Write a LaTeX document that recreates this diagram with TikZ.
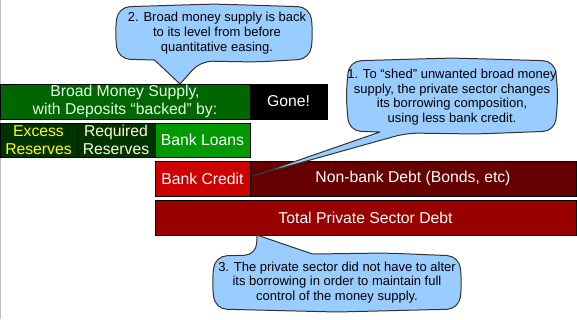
\documentclass[tikz,border=0pt]{standalone}
\usepackage{fontspec}
\setmainfont{Liberation Sans}
\usetikzlibrary{positioning,calc}
\definecolor{moneygreen}{HTML}{006600}
\definecolor{reservegreen}{HTML}{003300}
\definecolor{loangreen}{HTML}{009900}
\definecolor{creditred}{HTML}{CC0000}
\definecolor{bondred}{HTML}{660000}
\definecolor{debtred}{HTML}{990000}
\definecolor{calloutblue}{HTML}{99CCFF}
\definecolor{palegreen}{HTML}{E6FFE6}
\definecolor{paleyellow}{HTML}{FFFFCC}
\definecolor{brightyellow}{HTML}{FFFF00}
\tikzset{
  stackbox/.style={draw=black, line width=0.75pt, outer sep=0pt, inner sep=0pt, align=center, minimum height=26.25pt, font=\fontsize{11.8}{13}\selectfont, text=white},
  calloutbody/.style={inner sep=0pt, outer sep=0pt},
  callout/.style={draw=black!80, fill=calloutblue, line width=0.75pt, line join=round, rounded corners=9pt},
  callouttext/.style={align=center, font=\fontsize{9.75}{11}\selectfont, text=black},
}

\begin{document}
\begin{tikzpicture}[x=0.75pt, y=-0.75pt, node distance=3pt and 0pt]
    \useasboundingbox (0,0) rectangle (577,319);
    \draw[black!25, line width=0.75pt] (0.5,0) -- (0.5,319);
    % money side
    \node[stackbox, fill=moneygreen, text=palegreen, minimum width=187.5pt, anchor=north west] (broad) at (0,84) {Broad Money Supply,\\with Deposits “backed” by:};
    \node[stackbox, fill=black, minimum width=57.75pt, right=of broad] (gone) {Gone!};
    \node[stackbox, fill=reservegreen, text=brightyellow, minimum width=57.75pt, minimum height=25.5pt, below=of broad.south west, anchor=north west] (excess) {Excess\\Reserves};
    \node[stackbox, fill=reservegreen, text=paleyellow, minimum width=58.5pt, minimum height=25.5pt, right=of excess] (required) {Required\\Reserves};
    \node[stackbox, fill=loangreen, minimum width=71.25pt, minimum height=25.5pt, right=of required] (loans) {Bank Loans};
    % debt side
    \node[stackbox, fill=creditred, minimum width=71.25pt, below=of loans.south west, anchor=north west] (credit) {Bank Credit};
    \node[stackbox, fill=bondred, minimum width=244.5pt, right=of credit] (bonds) {Non-bank Debt (Bonds, etc)};
    \node[stackbox, fill=debtred, minimum width=315.75pt, below=of credit.south west, anchor=north west] (total) {Total Private Sector Debt};
    % callouts (sides bulge by 3)
    \node[calloutbody, minimum width=144pt, minimum height=39pt] (note2) at (214,33) {};
    \coordinate (tip2) at ($(broad.north west)!0.72!(broad.north east)$);
    \draw[callout] ($(note2.north)+(0,-3)$) -- (note2.north east) -- ($(note2.east)+(3,0)$) -- (note2.south east) -- ($(note2.south west)!0.72!(note2.south east)+(0,3)$) -- ($(note2.south west)!0.43!(note2.south east)+(0,2)$) [sharp corners] -- (tip2) -- ($(note2.south west)!0.19!(note2.south east)+(0,1)$) [rounded corners=9pt] -- (note2.south west) -- ($(note2.west)+(-3,0)$) -- (note2.north west) -- cycle;
    \node[callouttext] (note2text) at ($(note2)+(3,0)$) {2. Broad money supply is back\\to its level from before\\quantitative easing.};

    \node[calloutbody, minimum width=154.5pt, minimum height=52.5pt] (note1) at (452,96) {};
    \coordinate (tip1) at ($(bonds.west)+(3,-2.5)$);
    \draw[callout] ($(note1.north)+(0,-3)$) -- (note1.north east) -- ($(note1.east)+(3,0)$) -- (note1.south east) -- ($(note1.south west)!0.62!(note1.south east)+(0,3)$) -- ($(note1.south west)!0.28!(note1.south east)+(0,2)$) [sharp corners] -- (tip1) -- ($(note1.south west)!0.15!(note1.south east)+(0,1)$) [rounded corners=9pt] -- (note1.south west) -- ($(note1.west)+(-3,0)$) -- (note1.north west) -- cycle;
    \node[callouttext] (note1text) at ($(note1)+(0,1)$) {1. To “shed” unwanted broad money\\supply, the private sector changes\\its borrowing composition,\\using less bank credit.};

    \node[calloutbody, minimum width=183pt, minimum height=39.75pt] (note3) at (337,282.5) {};
    \coordinate (tip3) at ($(total.south west)!0.242!(total.south east)$);
    \draw[callout] ($(note3.south)+(0,3)$) -- (note3.south west) -- ($(note3.west)+(-3,0)$) -- (note3.north west) -- ($(note3.north west)!0.17!(note3.north east)+(0,-1)$) [sharp corners] -- (tip3) -- ($(note3.north west)!0.40!(note3.north east)+(0,-2)$) [rounded corners=9pt] -- ($(note3.north west)!0.7!(note3.north east)+(0,-3)$) -- (note3.north east) -- ($(note3.east)+(3,0)$) -- (note3.south east) -- cycle;
    \node[callouttext] (note3text) at (note3) {3. The private sector did not have to alter\\its borrowing in order to maintain full\\control of the money supply.};
\end{tikzpicture}
\end{document}
